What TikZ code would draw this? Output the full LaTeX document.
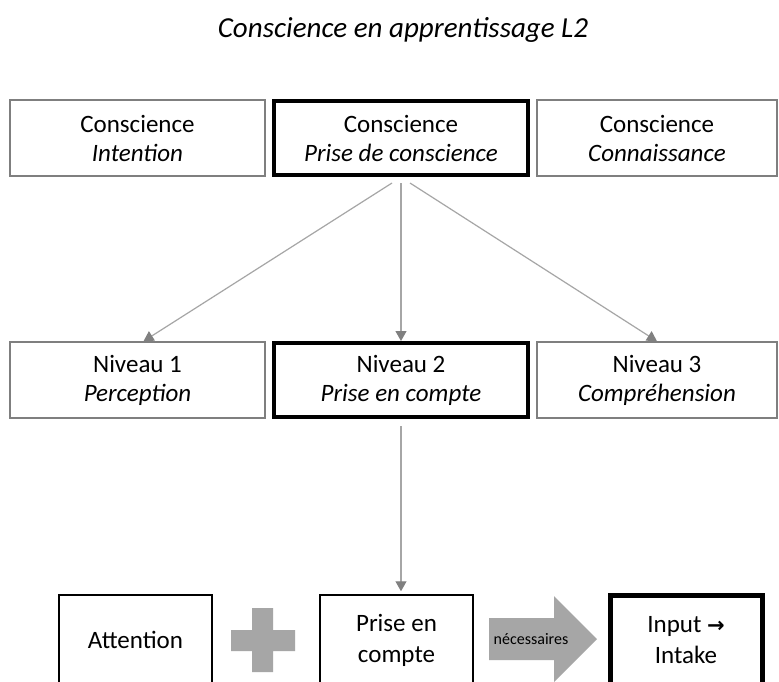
\documentclass[tikz,border=0pt]{standalone}
\usepackage{fontspec}
\setmainfont{Carlito}
\newfontfamily\symfont{DejaVu Sans}
\usetikzlibrary{arrows.meta}
\definecolor{boxgray}{HTML}{7F7F7F}
\definecolor{linegray}{HTML}{A6A6A6}
\definecolor{tipgray}{HTML}{808080}
\definecolor{shapegray}{HTML}{A6A6A6}
\tikzset{
  box/.style={rectangle, draw=boxgray, line width=1.5pt, inner sep=0pt, align=center,
    minimum height=76pt, font=\fontsize{25}{29}\selectfont},
  thickbox/.style={box, draw=black, line width=4pt, minimum height=74pt},
  lowbox/.style={rectangle, draw=black, line width=1.5pt, inner sep=0pt, align=center,
    minimum width=153pt, minimum height=90pt, font=\fontsize{25}{31}\selectfont},
  lowthick/.style={lowbox, line width=5pt, minimum width=152pt},
  conn/.style={draw=linegray, line width=1.2pt,
    -{Triangle[width=11pt,length=10pt,color=tipgray]}},
  grayshape/.style={fill=shapegray, draw=none},
}
\begin{document}
\begin{tikzpicture}[x=1pt,y=-1pt]
\clip (0,0) rectangle (779,681);
\fill[white] (0,0) rectangle (779,681);
% title
\node[font=\fontsize{29}{33}\selectfont\itshape] (title) at (403,30) {Conscience en apprentissage L2};
% top row
\node[box, minimum width=255pt] (c1) at (137.5,138) {Conscience\\\textit{Intention}};
\node[thickbox, minimum width=254pt] (c2) at (401,138) {Conscience\\\textit{Prise de conscience}};
\node[box, minimum width=240pt] (c3) at (657,138) {Conscience\\\textit{Connaissance}};
% middle row
\node[box, minimum width=255pt] (n1) at (137.5,380) {Niveau 1\\\textit{Perception}};
\node[thickbox, minimum width=254pt] (n2) at (401,380) {Niveau 2\\\textit{Prise en compte}};
\node[box, minimum width=240pt] (n3) at (657,380) {Niveau 3\\\textit{Compréhension}};
% arrows
\draw[conn] ([xshift=-9pt,yshift=-6pt]c2.south) -- ([xshift=6pt]n1.north);
\draw[conn] ([yshift=-6pt]c2.south) -- (n2.north);
\draw[conn] ([xshift=9pt,yshift=-6pt]c2.south) -- (n3.north);
% bottom row
\node[lowbox] (att) at (135.5,640) {Attention};
\node[lowbox] (pec) at (396.5,640) {Prise en\\compte};
\node[lowthick] (inp) at (686,640) {Input {\symfont\bfseries\fontsize{21}{31}\selectfont →}\\Intake};
\draw[conn, shorten >=3pt] ([yshift=-7pt]n2.south) -- (n2.south |- pec.north);
% plus sign
\fill[grayshape] (231,630) -- (252,630) -- (252,608) -- (273,608) -- (273,630) -- (295,630)
  -- (295,651) -- (273,651) -- (273,672) -- (252,672) -- (252,651) -- (231,651) -- cycle;
% big arrow
\fill[grayshape] (489,618) -- (554,618) -- (554,596) -- (597,639) -- (554,682) -- (554,660) -- (489,660) -- cycle;
\node[font=\fontsize{16}{18}\selectfont] (nec) at (531,639) {nécessaires};
\end{tikzpicture}
\end{document}
